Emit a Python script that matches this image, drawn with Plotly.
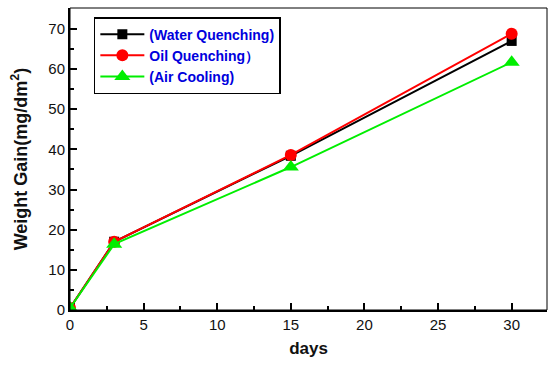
import plotly.graph_objects as go

days = [0, 3, 15, 30]
water = [0.5, 17.0, 38.4, 67.0]
oil = [0.5, 17.0, 38.6, 68.8]
air = [0.5, 16.4, 35.6, 61.7]
names = ["(Water Quenching)", "Oil Quenching）", "(Air Cooling)"]

fig = go.Figure()
fig.add_trace(go.Scatter(x=days, y=water, name=names[0], mode="lines+markers",
                         line=dict(color="black", width=2),
                         marker=dict(symbol="square", size=10, color="black")))
fig.add_trace(go.Scatter(x=days, y=oil, name=names[1], mode="lines+markers",
                         line=dict(color="red", width=2),
                         marker=dict(symbol="circle", size=12, color="red")))
fig.add_trace(go.Scatter(x=days, y=air, name=names[2], mode="lines+markers",
                         line=dict(color="#00ee00", width=2),
                         marker=dict(symbol="triangle-up", size=14, color="#00ee00")))

axis_common = dict(showgrid=False, zeroline=False, showline=True, linecolor="black",
                   linewidth=2, mirror=False, ticks="inside", ticklen=7, tickwidth=2,
                   tickcolor="black", automargin=False,
                   tickfont=dict(family="Arial, Liberation Sans", size=15, color="#111"))

fig.update_layout(
    width=548, height=367,
    margin=dict(l=70, r=1, t=8, b=57, pad=0, autoexpand=False),
    paper_bgcolor="white", plot_bgcolor="white",
    showlegend=True,
    legend=dict(x=0.05, y=0.97, xanchor="left", yanchor="top",
                bordercolor="black", borderwidth=1.5, bgcolor="white",
                font=dict(family="Arial, Liberation Sans", size=14, color="#0000dd", weight="bold"),
                itemwidth=44, tracegroupgap=0),
    xaxis=dict(range=[0, 32.4], tickvals=[0, 5, 10, 15, 20, 25, 30],
               minor=dict(tickvals=[2.5, 7.5, 12.5, 17.5, 22.5, 27.5], ticks="inside", ticklen=4, tickwidth=2, tickcolor="black"),
               title=dict(text="<b>days</b>", font=dict(family="Arial, Liberation Sans", size=17, color="#111"), standoff=10),
               **axis_common),
    yaxis=dict(range=[0, 75.2], tickvals=[0, 10, 20, 30, 40, 50, 60, 70],
               minor=dict(tickvals=[5, 15, 25, 35, 45, 55, 65, 75], ticks="inside", ticklen=4, tickwidth=2, tickcolor="black"),
               title=dict(text="<b>Weight Gain(mg/dm<sup>2</sup>)</b>", font=dict(family="Arial, Liberation Sans", size=18, color="#111"), standoff=16),
               **axis_common),
)
# thin top/right frame
fig.add_shape(type="rect", xref="paper", yref="paper", x0=0, y0=0, x1=1, y1=1,
              line=dict(color="black", width=1), layer="above")

fig.write_html("out.html", config={"displayModeBar": False},
               post_script="document.body.style.margin='0';document.body.style.overflow='hidden';")
